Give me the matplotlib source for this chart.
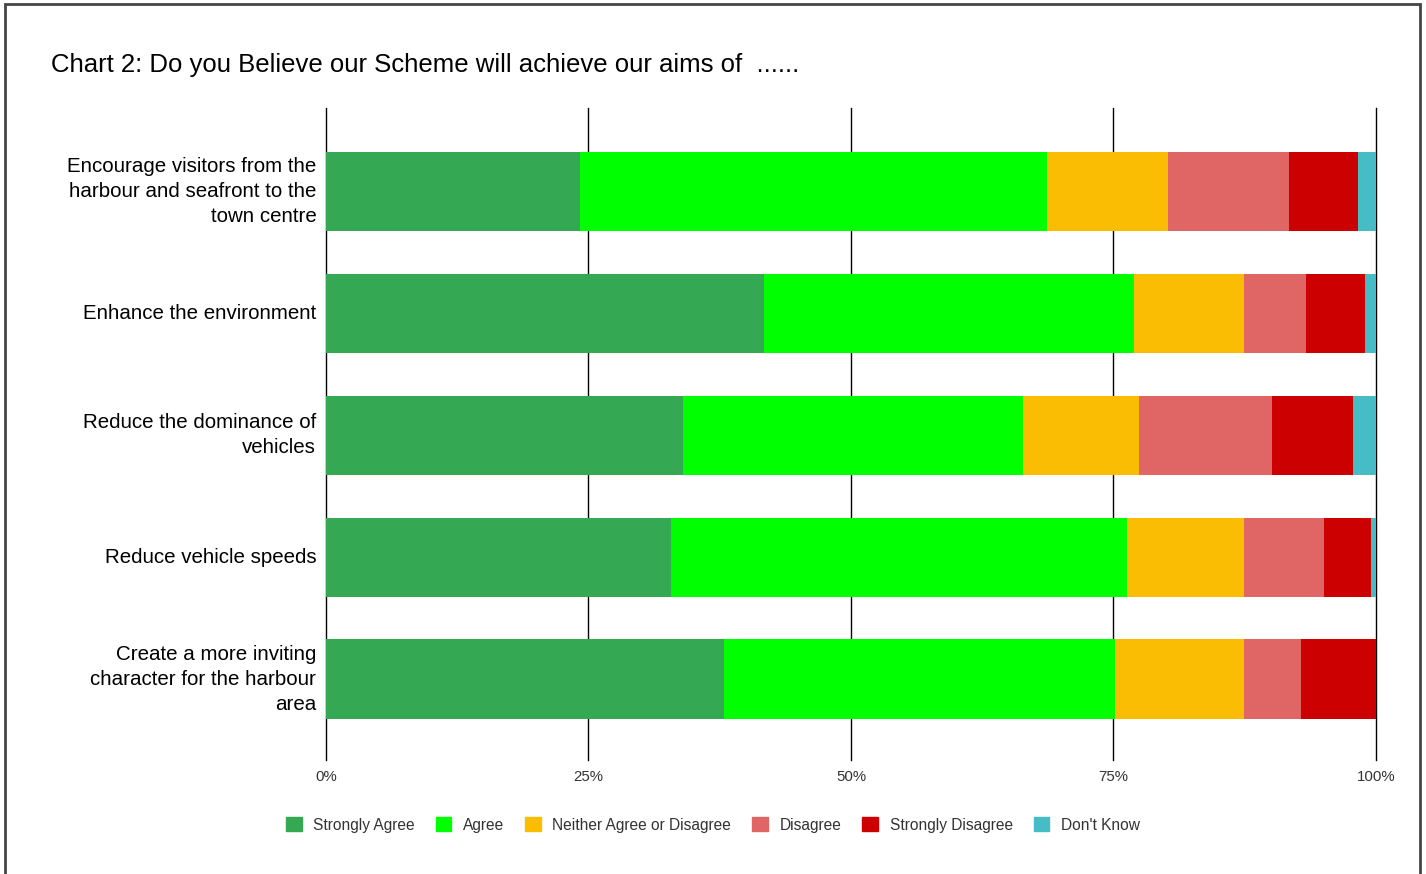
import matplotlib.pyplot as plt
from matplotlib.patches import Patch, Rectangle
import numpy as np

plt.rcParams['font.family'] = ['Liberation Sans', 'DejaVu Sans']

# survey answers, % of responses per aim
aims = ["Encourage visitors from the\nharbour and seafront to the\ntown centre",
        "Enhance the environment",
        "Reduce the dominance of\nvehicles",
        "Reduce vehicle speeds",
        "Create a more inviting\ncharacter for the harbour\narea"]
answers = ["Strongly Agree", "Agree", "Neither Agree or Disagree",
           "Disagree", "Strongly Disagree", "Don't Know"]
strongly_agree = [24.2, 41.7, 34.0, 32.9, 37.9]
agree = [44.5, 35.3, 32.4, 43.4, 37.2]
neither = [11.5, 10.4, 11.0, 11.1, 12.3]
disagree = [11.5, 5.9, 12.7, 7.7, 5.5]
strongly_disagree = [6.6, 5.7, 7.7, 4.4, 7.1]
dont_know = [1.7, 1.0, 2.2, 0.5, 0.0]
colours = ["#34a853", "#00ff00", "#fbbc04", "#e06666", "#cc0000", "#46bdc6"]

ticks = [0, 25, 50, 75, 100]
tick_labels = ["0%", "25%", "50%", "75%", "100%"]

fig = plt.figure(figsize=(14.26, 8.74), dpi=100)
ax = fig.add_axes([0.2286, 0.1304, 0.7363, 0.746])

y = np.arange(len(aims))
left = np.zeros(len(aims))
for vals, name, col in zip([strongly_agree, agree, neither, disagree,
                            strongly_disagree, dont_know], answers, colours):
    ax.barh(y, vals, left=left, height=0.65, color=col, label=name, zorder=3)
    left += np.array(vals)

ax.set_xlim(0, 100)
ax.set_ylim(4.664, -0.685)
ax.set_xticks(ticks)
ax.set_xticklabels(tick_labels, fontsize=10.8, color="#333333")
ax.set_yticks(y)
ax.set_yticklabels(aims, fontsize=14.8, linespacing=1.4)
for lbl in ax.get_yticklabels():
    lbl.set_va('center')
ax.tick_params(axis='y', length=0, pad=7)
ax.tick_params(axis='x', length=0, pad=7)
for t in ticks:
    ax.axvline(t, color='black', linewidth=1, zorder=1, clip_on=False)
for s in ax.spines.values():
    s.set_visible(False)

fig.text(51 / 1426, 1 - 65 / 874, "Chart 2: Do you Believe our Scheme will achieve our aims of  ......",
         fontsize=18.5, va='center', ha='left')

handles = [Patch(facecolor=c, edgecolor=c) for c in colours]
fig.legend(handles, answers, loc='center', bbox_to_anchor=(0.5, 0.056), ncol=6,
           frameon=False, fontsize=11.2, handlelength=1.0, handleheight=1.0,
           handletextpad=0.75, columnspacing=1.35, labelcolor="#333333")

fig.patches.append(Rectangle((5 / 1426, -0.05), 1415 / 1426, 1.05 - 4 / 874,
                             transform=fig.transFigure, fill=False,
                             edgecolor="#444444", linewidth=2))

fig.savefig("out.png", dpi=100)
